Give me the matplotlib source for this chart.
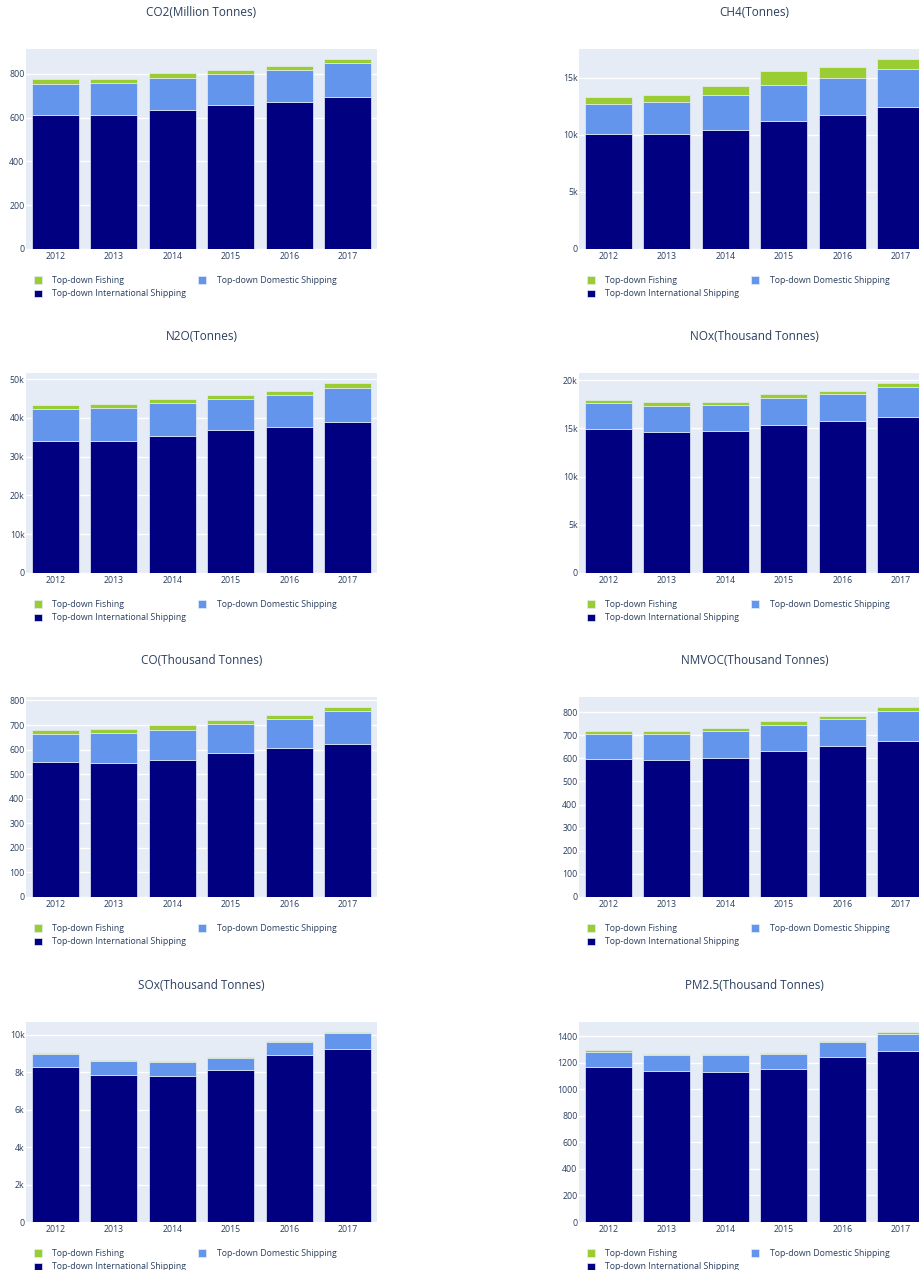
#import libraries
import matplotlib.pyplot as plt
import numpy as np
from matplotlib.ticker import FuncFormatter, MultipleLocator

plt.rcParams['font.family'] = ['Open Sans', 'DejaVu Sans']

#data: one set of arrays per pollutant
years = ['2012', '2013', '2014', '2015', '2016', '2017']
titles = ['CO2(Million Tonnes)', 'CH4(Tonnes)', 'N2O(Tonnes)', 'NOx(Thousand Tonnes)',
          'CO(Thousand Tonnes)', 'NMVOC(Thousand Tonnes)', 'SOx(Thousand Tonnes)', 'PM2.5(Thousand Tonnes)']

co2_intl = [611, 611, 633, 657, 672, 694]
co2_dom = [143, 146, 149, 143, 145, 155]
co2_fish = [22, 22, 21, 18, 21, 19]

ch4_intl = [10100, 10100, 10400, 11200, 11700, 12400]
ch4_dom = [2600, 2800, 3050, 3150, 3300, 3350]
ch4_fish = [600, 600, 800, 1200, 900, 870]

n2o_intl = [34100, 34100, 35450, 36850, 37750, 39050]
n2o_dom = [8150, 8400, 8500, 8050, 8250, 8650]
n2o_fish = [1200, 1200, 1050, 1050, 1050, 1300]

nox_intl = [14900, 14650, 14700, 15400, 15750, 16200]
nox_dom = [2700, 2700, 2700, 2750, 2800, 3100]
nox_fish = [380, 380, 380, 380, 350, 400]

co_intl = [549, 546, 559, 586, 605, 623]
co_dom = [114, 120, 122, 118, 118, 132]
co_fish = [18, 16, 18, 18, 16, 18]

nmvoc_intl = [596, 592, 601, 631, 654, 674]
nmvoc_dom = [109, 113, 117, 115, 116, 131]
nmvoc_fish = [15, 15, 13, 17, 14, 17]

sox_intl = [8250, 7870, 7820, 8100, 8940, 9240]
sox_dom = [740, 745, 745, 675, 670, 850]
sox_fish = [50, 50, 50, 40, 40, 50]

pm25_intl = [1169, 1137, 1129, 1154, 1242, 1290]
pm25_dom = [116, 122, 128, 113, 115, 130]
pm25_fish = [10, 8, 7, 10, 8, 13]

intl_all = [co2_intl, ch4_intl, n2o_intl, nox_intl, co_intl, nmvoc_intl, sox_intl, pm25_intl]
dom_all = [co2_dom, ch4_dom, n2o_dom, nox_dom, co_dom, nmvoc_dom, sox_dom, pm25_dom]
fish_all = [co2_fish, ch4_fish, n2o_fish, nox_fish, co_fish, nmvoc_fish, sox_fish, pm25_fish]
tick_steps = [200, 5000, 10000, 5000, 100, 100, 2000, 200]

#layout in pixels
W, H = 919, 1270
col_x = [26, 579]
row_top = [49, 373, 697, 1022]
pw, ph = 351, 200
txt = '#2a3f5f'

fig = plt.figure(figsize=(W / 100, H / 100), dpi=100)

def kfmt(v, pos, big):
    if v == 0:
        return '0'
    if big:
        return '%gk' % (v / 1000)
    return '%g' % v

for i in range(8):
    r, c = i // 2, i % 2
    ax = fig.add_axes([col_x[c] / W, 1 - (row_top[r] + ph) / H, pw / W, ph / H])
    ax.set_facecolor('#E5ECF6')
    x = np.arange(len(years))
    intl = np.array(intl_all[i])
    dom = np.array(dom_all[i])
    fish = np.array(fish_all[i])

    b1 = ax.bar(x, intl, width=0.8, color='#000080', edgecolor='#E5ECF6', linewidth=0.5, zorder=3,
                label='Top-down International Shipping')
    b2 = ax.bar(x, dom, bottom=intl, width=0.8, color='#6495ED', edgecolor='#E5ECF6', linewidth=0.5,
                zorder=3, label='Top-down Domestic Shipping')
    b3 = ax.bar(x, fish, bottom=intl + dom, width=0.8, color='#9ACD32', edgecolor='#E5ECF6', linewidth=0.5,
                zorder=3, label='Top-down Fishing')

    top = (intl + dom + fish).max() * 1.053
    ax.set_xlim(-0.5, 5.5)
    ax.set_ylim(0, top)
    ax.set_xticks(x)
    ax.set_xticklabels(years)
    ax.yaxis.set_major_locator(MultipleLocator(tick_steps[i]))
    big = top > 10000
    ax.yaxis.set_major_formatter(FuncFormatter(lambda v, p, big=big: kfmt(v, p, big)))
    ax.grid(axis='y', color='white', linewidth=1, zorder=0)
    ax.tick_params(length=0, labelsize=6.3, labelcolor=txt, pad=2)
    ax.tick_params(axis='y', pad=1)
    for s in ax.spines.values():
        s.set_visible(False)

    ax.text(0.5, 1 + 36.5 / ph, titles[i], transform=ax.transAxes, ha='center', va='center',
            fontsize=8.5, color=txt)

    ax.legend([b3, b1, b2], ['Top-down Fishing', 'Top-down International Shipping', 'Top-down Domestic Shipping'],
              ncol=2, loc='upper left', bbox_to_anchor=(0.022, -0.135), frameon=False, fontsize=6.3,
              labelcolor=txt, handlelength=0.9, handleheight=0.9, handletextpad=1.2, columnspacing=1.4,
              labelspacing=0.5, borderpad=0, borderaxespad=0)

fig.savefig('out.png', dpi=100)
